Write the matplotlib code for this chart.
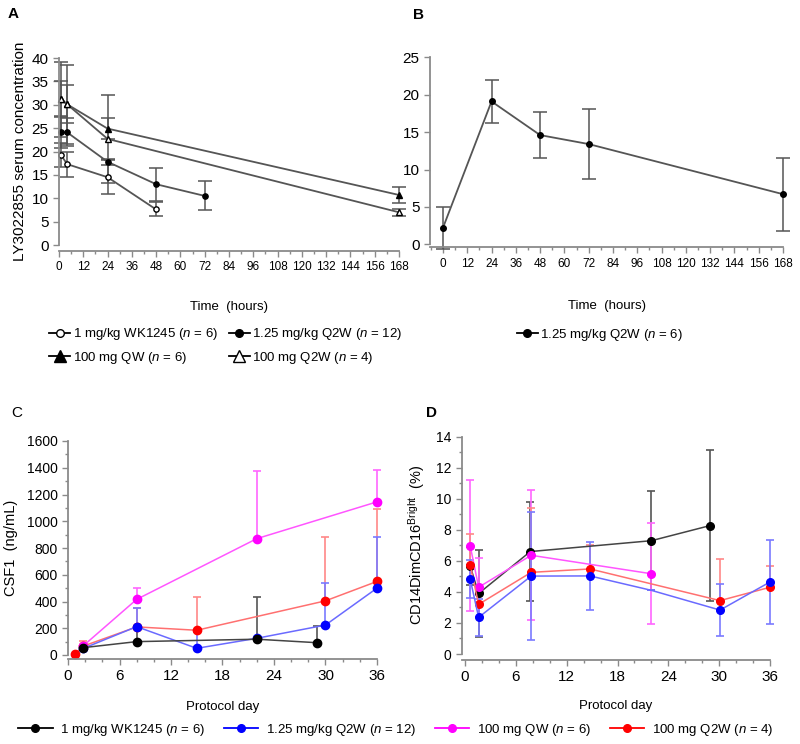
import matplotlib
matplotlib.use('Agg')
import matplotlib.pyplot as plt
from matplotlib.lines import Line2D
from matplotlib.ticker import MultipleLocator
from matplotlib import font_manager

# ---- panel A: serum concentration, first dose ----
t_wk = [1, 4, 24, 48]
a_wk = [19.25, 17.3, 14.5, 7.6]
a_wk_err = [2.5, 2.7, 3.6, 1.5]

t_q2w = [1, 4, 24, 48, 72]
a_q2w = [24.1, 24.1, 17.8, 13.0, 10.5]
a_q2w_err = [3.4, 3.0, 0.6, 3.5, 3.1]

t_qw100 = [1, 4, 24, 168]
a_qw100 = [31.2, 30.1, 24.9, 10.7]
a_qw100_err = [3.9, 4.1, 2.2, 1.8]

t_q2w100 = [1, 4, 24, 168]
a_q2w100 = [31.2, 30.1, 22.7, 7.0]
a_q2w100_err = [8.0, 8.4, 9.4, 0.7]

# ---- panel B ----
t_b = [0, 24, 48, 72, 168]
b_val = [2.2, 19.1, 14.6, 13.4, 6.7]
b_err = [2.8, 2.85, 3.1, 4.7, 4.9]

# ---- panel C: CSF1 (upper error only) ----
c_black_day = [1.8, 8, 22, 29]
c_black = [55, 100, 118, 92]
c_black_up = [0, 120, 317, 124]

c_blue_day = [1.8, 8, 15, 22, 30, 36]
c_blue = [50, 212, 50, 125, 224, 500]
c_blue_up = [0, 143, 125, 0, 315, 382]

c_mag_day = [1.8, 8, 22, 36]
c_mag = [70, 416, 870, 1145]
c_mag_up = [0, 83, 505, 235]

c_red_day = [0.8, 1.8, 8, 15, 30, 36]
c_red = [5, 67, 210, 185, 405, 550]
c_red_up = [0, 40, 140, 250, 480, 545]

# ---- panel D: CD14Dim CD16Bright ----
d_black_day = [0.6, 1.6, 7.7, 22, 28.9]
d_black = [5.67, 3.9, 6.6, 7.3, 8.27]
d_black_err = [1.2, 2.8, 3.2, 3.2, 4.85]

d_blue_day = [0.6, 1.6, 7.8, 14.75, 22, 30.1, 36]
d_blue = [4.83, 2.36, 5.02, 5.03, 4.1, 2.83, 4.64]
d_blue_err = [1.2, 1.2, 4.1, 2.2, 0, 1.65, 2.7]

d_mag_day = [0.6, 1.6, 7.8, 22]
d_mag = [6.98, 4.3, 6.36, 5.17]
d_mag_err = [4.2, 1.9, 4.2, 3.25]

d_red_day = [0.6, 1.6, 7.8, 14.75, 30.1, 36]
d_red = [5.73, 3.2, 5.26, 5.48, 3.44, 4.3]
d_red_up = [1.97, 0, 4.14, 1.52, 2.66, 1.35]

lab_wk = '1 mg/kg WK1245 ($n$ = 6)'
lab_q2w = '1.25 mg/kg Q2W ($n$ = 12)'
lab_q2w_b = '1.25 mg/kg Q2W ($n$ = 6)'
lab_qw100 = '100 mg QW ($n$ = 6)'
lab_q2w100 = '100 mg Q2W ($n$ = 4)'

names = {f.name for f in font_manager.fontManager.ttflist}
narrow = 'Liberation Sans Narrow' if 'Liberation Sans Narrow' in names else 'Liberation Sans'
nsize = 10.5 if narrow == 'Liberation Sans Narrow' else 9.5
tsize = 9.5 if narrow == 'Liberation Sans Narrow' else 8.5

plt.rcParams['font.family'] = ['Liberation Sans', 'DejaVu Sans']
plt.rcParams['mathtext.fontset'] = 'custom'
plt.rcParams['mathtext.rm'] = narrow
plt.rcParams['mathtext.it'] = narrow + ':italic'

W, H = 800, 744
fig = plt.figure(figsize=(W / 100, H / 100), dpi=100)

AX = '#8a8a8a'
LN = '#555555'


def add_ax(x0, x1, ytop, ybot):
    return fig.add_axes([x0 / W, 1 - ybot / H, (x1 - x0) / W, (ybot - ytop) / H])


def style(ax, off):
    for s in ['top', 'right']:
        ax.spines[s].set_visible(False)
    for s in ['left', 'bottom']:
        ax.spines[s].set_color(AX)
        ax.spines[s].set_linewidth(1.3)
    ax.spines['bottom'].set_position(('outward', off * 0.72))
    ax.tick_params(which='both', color=AX, direction='out', width=1)
    ax.tick_params(which='major', length=4)
    ax.tick_params(which='minor', length=2.5)
    ax.patch.set_alpha(0)


# ---------------- A ----------------
axA = add_ax(59, 399, 58, 245)
style(axA, 6)
for t, v, e, mk, mfc in [(t_wk, a_wk, a_wk_err, 'o', 'white'),
                          (t_q2w, a_q2w, a_q2w_err, 'o', 'black'),
                          (t_qw100, a_qw100, a_qw100_err, '^', 'black'),
                          (t_q2w100, a_q2w100, a_q2w100_err, '^', 'white')]:
    axA.errorbar(t, v, yerr=e, color=LN, lw=1.3, marker=mk, ms=3.8, mfc=mfc,
                 mec='black', ecolor=LN, elinewidth=1.1, capsize=4.7, capthick=1.1,
                 clip_on=False)
axA.set_xlim(0, 168)
axA.set_ylim(0, 40)
axA.set_xticks(range(0, 169, 12))
axA.xaxis.set_minor_locator(MultipleLocator(6))
axA.set_yticks(range(0, 41, 5))
axA.tick_params(axis='y', labelsize=11)
for lbl in axA.get_xticklabels():
    lbl.set_family(narrow)
    lbl.set_fontsize(tsize)
axA.set_ylabel('LY3022855 serum concentration', fontsize=11, labelpad=3)
axA.set_xlabel('Time  (hours)', family=narrow, fontsize=nsize, labelpad=20)
fig.text(8 / W, 1 - 14 / H, 'A', fontsize=11, weight='bold', va='center')

# ---------------- B ----------------
axB = add_ax(430, 783, 57.3, 244.3)
style(axB, 3)
axB.errorbar(t_b, b_val, yerr=b_err, color=LN, lw=1.3, marker='o', ms=4,
             mfc='black', mec='black', ecolor=LN, elinewidth=1.1, capsize=5.2,
             capthick=1.1, clip_on=False)
axB.set_xlim(-6.4, 168)
axB.set_ylim(0, 25)
axB.set_xticks(range(0, 169, 12))
axB.xaxis.set_minor_locator(MultipleLocator(6))
axB.set_yticks(range(0, 26, 5))
axB.tick_params(axis='y', labelsize=11)
for lbl in axB.get_xticklabels():
    lbl.set_family(narrow)
    lbl.set_fontsize(tsize)
axB.set_xlabel('Time  (hours)', family=narrow, fontsize=nsize, labelpad=22)
fig.text(413 / W, 1 - 15 / H, 'B', fontsize=11, weight='bold', va='center')

# ---------------- C ----------------
axC = add_ax(68, 377, 441, 655)
style(axC, 4)
series_c = [(c_red_day, c_red, c_red_up, '#ff0000', '#ff7070', '#ff8888'),
            (c_blue_day, c_blue, c_blue_up, '#0000ff', '#6a6aff', '#7a7aff'),
            (c_mag_day, c_mag, c_mag_up, '#ff00ff', '#ff55ff', '#ff66ff'),
            (c_black_day, c_black, c_black_up, '#000000', '#444444', '#555555')]
for d, v, up, mc, lc, ec in series_c:
    axC.errorbar(d, v, yerr=[[0] * len(up), up], fmt='none', ecolor=ec,
                 elinewidth=1.2, capsize=3, capthick=1.2, clip_on=False)
for d, v, up, mc, lc, ec in series_c:
    axC.plot(d, v, color=lc, lw=1.1, marker='o', ms=6, mfc=mc, mec=mc,
             clip_on=False)
axC.set_xlim(0, 36)
axC.set_ylim(0, 1600)
axC.set_xticks(range(0, 37, 6))
axC.xaxis.set_minor_locator(MultipleLocator(2))
axC.set_yticks(range(0, 1601, 200))
axC.yaxis.set_minor_locator(MultipleLocator(100))
axC.tick_params(axis='y', labelsize=10)
axC.tick_params(axis='x', labelsize=11)
axC.set_ylabel('CSF1  (ng/mL)', fontsize=10.5, labelpad=6)
axC.set_xlabel('Protocol day', family=narrow, fontsize=nsize, labelpad=13)
fig.text(11 / W, 1 - 413 / H, 'C', fontsize=11, va='center')

# ---------------- D ----------------
axD = add_ax(461.7, 770, 436.7, 654)
style(axD, 6)
series_d = [(d_black_day, d_black, [d_black_err, d_black_err], '#000000', '#444444', '#555555', None),
            (d_mag_day, d_mag, [d_mag_err, d_mag_err], '#ff00ff', '#ff55ff', '#ff66ff', None),
            (d_red_day, d_red, [[0] * len(d_red_up), d_red_up], '#ff0000', '#ff7070', '#ff8888', None),
            (d_blue_day, d_blue, [d_blue_err, d_blue_err], '#0000ff', '#6a6aff', '#7a7aff', [0, 1, 2, 3, 5, 6])]
for d, v, err, mc, lc, ec, me in series_d:
    axD.errorbar(d, v, yerr=err, fmt='none', ecolor=ec, elinewidth=1.2,
                 capsize=3, capthick=1.2, clip_on=False)
for d, v, err, mc, lc, ec, me in series_d:
    axD.plot(d, v, color=lc, lw=1.1, marker='o', ms=5.5, mfc=mc, mec=mc,
             markevery=me, clip_on=False)
axD.set_xlim(-0.4, 36)
axD.set_ylim(0, 14)
axD.set_xticks(range(0, 37, 6))
axD.xaxis.set_minor_locator(MultipleLocator(2))
axD.set_yticks(range(0, 15, 2))
axD.yaxis.set_minor_locator(MultipleLocator(1))
axD.tick_params(axis='y', labelsize=10)
axD.tick_params(axis='x', labelsize=11)
axD.set_ylabel(r'CD14DimCD16$^{\mathrm{Bright}}$  (%)', fontsize=10.5, labelpad=6)
axD.set_xlabel('Protocol day', family=narrow, fontsize=nsize, labelpad=11)
fig.text(426 / W, 1 - 413 / H, 'D', fontsize=11, weight='bold', va='center')

# ---------------- legends ----------------
def h(mk, mfc, ms=6, color='black', mec='black'):
    return Line2D([], [], color=color, lw=1.3, marker=mk, ms=ms, mfc=mfc, mec=mec)

legA = fig.legend([h('o', 'white', 5.5), h('^', 'black', 9), h('o', 'black', 5.5), h('^', 'white', 9)],
                  [lab_wk, lab_qw100, lab_q2w, lab_q2w100], ncol=2, loc='center',
                  bbox_to_anchor=(226 / W, 1 - 346 / H), frameon=False,
                  prop={'family': narrow, 'size': nsize}, handlelength=1.6,
                  handletextpad=0.2, columnspacing=0.8, labelspacing=0.55)

legB = fig.legend([h('o', 'black', 5.5)], [lab_q2w_b], loc='center',
                  bbox_to_anchor=(600 / W, 1 - 335 / H), frameon=False,
                  prop={'family': narrow, 'size': nsize}, handlelength=1.6,
                  handletextpad=0.2)

cols = ['#000000', '#0000ff', '#ff00ff', '#ff0000']
legD = fig.legend([h('o', c, 5.5, c, c) for c in cols],
                  [lab_wk, lab_q2w, lab_qw100, lab_q2w100], ncol=4, loc='center',
                  bbox_to_anchor=(396 / W, 1 - 730 / H), frameon=False,
                  prop={'family': narrow, 'size': nsize}, handlelength=2.6,
                  handletextpad=0.6, columnspacing=1.4)

fig.savefig('out.png', dpi=100)
